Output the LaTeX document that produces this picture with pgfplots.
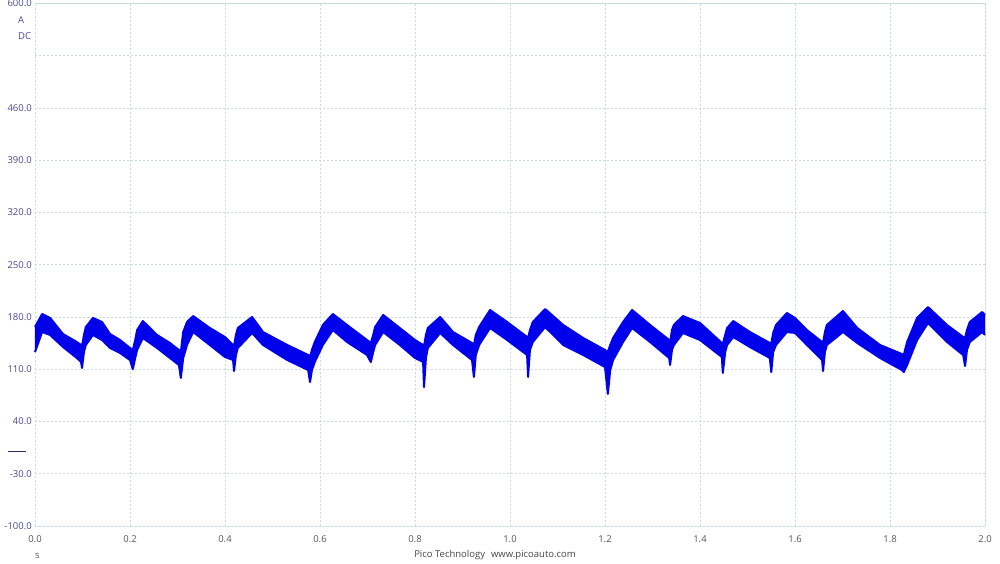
\documentclass[border=0pt]{standalone}
\usepackage{pgfplots}
\pgfplotsset{compat=1.18}
\usepackage{pgfplotstable}
\usepgfplotslibrary{fillbetween}
\usepackage{fontspec}
\setmainfont{Open Sans}

\definecolor{trace}{RGB}{0,0,235}
\definecolor{gridc}{RGB}{200,218,230}
\definecolor{ylab}{RGB}{72,72,150}
\definecolor{xlab}{RGB}{85,85,85}
\definecolor{zeromark}{RGB}{40,40,100}

% current envelope (upper / lower edge of the trace), A
\pgfplotstableread{
x      upper  lower
0.000  166.6  133.1
0.015  184.0  159.9
0.032  178.7  155.9
0.059  157.2  139.8
0.088  146.5  125.1
0.097  142.5  119.7
0.099  141.2  111.7
0.103  155.9  133.1
0.107  166.6  142.5
0.122  178.7  155.9
0.141  173.3  149.2
0.158  157.2  138.5
0.179  149.2  131.8
0.200  138.5  122.4
0.206  135.8  110.3
0.211  149.2  125.1
0.215  162.6  135.8
0.227  174.6  151.9
0.257  155.9  138.5
0.284  145.2  125.1
0.303  135.8  115.7
0.307  133.1   98.3
0.312  159.9  125.1
0.320  173.3  142.5
0.333  181.3  159.9
0.368  165.3  142.5
0.400  153.2  126.4
0.417  142.5  122.4
0.419  141.2  107.6
0.423  155.9  129.1
0.427  165.3  138.5
0.457  180.0  158.6
0.480  159.9  142.5
0.531  142.5  122.4
0.575  129.1  109.0
0.579  126.4   92.9
0.583  135.8  109.0
0.589  146.5  119.7
0.606  169.3  142.5
0.627  184.0  162.6
0.657  169.3  146.5
0.699  149.2  129.1
0.707  145.2  119.7
0.712  155.9  133.1
0.716  166.6  142.5
0.733  182.7  159.9
0.768  165.3  142.5
0.800  149.2  125.1
0.817  142.5  119.7
0.819  141.2   86.2
0.823  155.9  125.1
0.827  165.3  138.5
0.853  180.0  158.6
0.880  159.9  142.5
0.920  145.2  122.4
0.924  142.5   99.6
0.928  155.9  129.1
0.935  166.6  142.5
0.958  189.4  165.3
0.994  173.3  149.2
1.036  153.2  129.1
1.038  151.9   99.6
1.042  162.6  135.8
1.048  173.3  146.5
1.074  190.7  166.6
1.112  169.3  142.5
1.154  151.9  129.1
1.200  135.8  113.0
1.206  133.1   76.8
1.211  142.5  109.0
1.217  151.9  122.4
1.238  173.3  146.5
1.257  189.4  165.3
1.295  169.3  146.5
1.335  149.2  125.1
1.337  145.2  115.7
1.341  162.6  135.8
1.345  169.3  142.5
1.364  181.3  158.6
1.400  172.0  149.2
1.446  145.2  126.4
1.448  143.8  105.0
1.453  155.9  133.1
1.457  165.3  142.5
1.470  174.6  153.2
1.505  159.9  139.8
1.547  145.2  125.1
1.550  143.8  106.3
1.554  158.6  133.1
1.560  169.3  142.5
1.583  185.4  159.9
1.600  178.7  158.6
1.625  162.6  142.5
1.657  146.5  122.4
1.659  145.2  107.6
1.663  159.9  133.1
1.667  169.3  142.5
1.701  188.0  159.9
1.731  165.3  145.2
1.779  142.5  125.1
1.825  130.4  109.0
1.829  129.1  106.3
1.836  146.5  115.7
1.857  178.7  149.2
1.880  193.4  172.0
1.920  169.3  146.5
1.954  153.2  129.1
1.958  151.9  114.3
1.962  162.6  135.8
1.968  173.3  146.5
1.994  186.7  159.9
2.000  182.7  155.9
}\current

\begin{document}
\begin{tikzpicture}
\begin{axis}[
    at={(0pt,0pt)}, anchor=south west,
    scale only axis, width=950pt, height=522.5pt,
    xmin=0, xmax=2, ymin=-100, ymax=600,
    xtick={0,0.2,0.4,0.6,0.8,1.0,1.2,1.4,1.6,1.8,2.0},
    xticklabels={0.0,0.2,0.4,0.6,0.8,1.0,1.2,1.4,1.6,1.8,2.0},
    ytick={-100,-30,40,110,180,250,320,390,460,530,600},
    yticklabels={-100.0,-30.0,40.0,110.0,180.0,250.0,320.0,390.0,460.0,{},600.0},
    grid=major,
    major grid style={gridc, line width=0.8pt, dash pattern=on 2pt off 2pt},
    axis line style={gridc, line width=0.8pt, dash pattern=on 2pt off 2pt},
    major tick length=0pt,
    ticklabel style={font=\fontsize{9.5}{11}\selectfont},
    yticklabel style={text=ylab, anchor=east, inner sep=0pt, xshift=-3pt},
    xticklabel style={text=xlab, anchor=north, inner sep=0pt, yshift=-9pt},
    clip=false,
  ]
\addplot[name path=up, draw=trace, line width=2pt, line join=round] table[x=x, y=upper]{\current};
\addplot[name path=lo, draw=trace, line width=2pt, line join=round] table[x=x, y=lower]{\current};
\addplot[trace] fill between[of=up and lo];
% zero-level marker of the channel
\addplot[zeromark, line width=1.2pt] coordinates {(-0.057,0) (-0.019,0)};
\end{axis}
\node[text=ylab, anchor=west, inner sep=0pt, font=\fontsize{9.5}{11}\selectfont] at (-17pt,506pt) {A};
\node[text=ylab, anchor=west, inner sep=0pt, font=\fontsize{9.5}{11}\selectfont] at (-17pt,490pt) {DC};
\node[text=xlab, anchor=west, inner sep=0pt, font=\fontsize{9.5}{11}\selectfont] at (0pt,-30pt) {s};
\node[text=xlab!80!black, inner sep=0pt, font=\fontsize{9.5}{11}\selectfont] at (460pt,-29pt) {Pico Technology\hspace{6pt}www.picoauto.com};
\pgfresetboundingbox
\path[use as bounding box] (-35pt,-37pt) rectangle (965pt,526pt);
\end{tikzpicture}
\end{document}
